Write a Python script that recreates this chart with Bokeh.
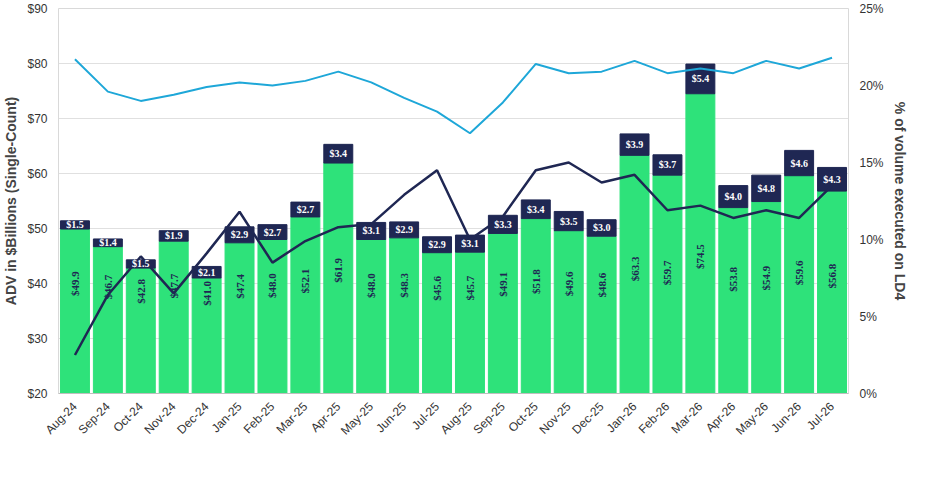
from bokeh.plotting import figure
from bokeh.models import ColumnDataSource, Range1d, LinearAxis, NumeralTickFormatter, Legend, LegendItem, LabelSet
from bokeh.embed import file_html
from bokeh.resources import INLINE

months = ["Aug-24","Sep-24","Oct-24","Nov-24","Dec-24","Jan-25","Feb-25","Mar-25","Apr-25","May-25","Jun-25","Jul-25",
          "Aug-25","Sep-25","Oct-25","Nov-25","Dec-25","Jan-26","Feb-26","Mar-26","Apr-26","May-26","Jun-26","Jul-26"]
spot = [49.9,46.7,42.8,47.7,41.0,47.4,48.0,52.1,61.9,48.0,48.3,45.6,45.7,49.1,51.8,49.6,48.6,63.3,59.7,74.5,53.8,54.9,59.6,56.8]
ndf = [1.5,1.4,1.5,1.9,2.1,2.9,2.7,2.7,3.4,3.1,2.9,2.9,3.1,3.3,3.4,3.5,3.0,3.9,3.7,5.4,4.0,4.8,4.6,4.3]
spot_pct = [21.7,19.6,19.0,19.4,19.9,20.2,20.0,20.3,20.9,20.2,19.2,18.3,16.9,18.9,21.4,20.8,20.9,21.6,20.8,21.1,20.8,21.6,21.1,21.8]
ndf_pct = [2.5,6.4,8.9,6.5,9.1,11.8,8.5,9.9,10.8,11.0,12.9,14.5,10.0,11.5,14.5,15.0,13.7,14.2,11.9,12.2,11.4,11.9,11.4,13.5]

GREEN = "#2ee27a"; NAVY = "#1f2753"; BLUE = "#1ea7d8"
total = [s + n for s, n in zip(spot, ndf)]
src = ColumnDataSource(dict(
    m=months, spot=spot, ndf=ndf, total=total,
    spot_pct=[v/100 for v in spot_pct], ndf_pct=[v/100 for v in ndf_pct],
    spot_lbl=[f"${v:.1f}" for v in spot], ndf_lbl=[f"${v:.1f}" for v in ndf],
    spot_y=[30 + v*0.2 for v in spot], ndf_y=[s + n/2 for s, n in zip(spot, ndf)],
))

p = figure(x_range=months, y_range=Range1d(20, 90), frame_width=790, frame_height=385,
           output_backend="svg", toolbar_location=None, min_border_left=5, min_border_right=5,
           min_border_top=8, min_border_bottom=0)
p.extra_y_ranges = {"pct": Range1d(0, 0.25)}
p.xgrid.grid_line_color = None
p.ygrid.grid_line_color = "#e0e0e0"
p.outline_line_color = "#d9d9d9"

r_spot = p.vbar(x="m", top="spot", bottom=0, width=0.88, color=GREEN, source=src)
r_ndf = p.vbar(x="m", top="total", bottom="spot", width=0.88, color=NAVY, source=src)
r_l1 = p.line(x="m", y="spot_pct", y_range_name="pct", color=BLUE, line_width=2, source=src)
r_l2 = p.line(x="m", y="ndf_pct", y_range_name="pct", color=NAVY, line_width=2.5, source=src)

p.add_layout(LabelSet(x="m", y="spot_y", text="spot_lbl", source=src, angle=1.5708,
                      text_align="center", text_baseline="middle", text_color=NAVY,
                      text_font_size="11px", text_font_style="bold", text_font="Liberation Sans"))
p.add_layout(LabelSet(x="m", y="ndf_y", text="ndf_lbl", source=src,
                      text_align="center", text_baseline="middle", text_color="white",
                      text_font_size="10px", text_font_style="bold", text_font="Liberation Sans"))

p.yaxis.formatter = NumeralTickFormatter(format="$0")
p.yaxis.axis_label = "ADV in $Billions (Single-Count)"
ax2 = LinearAxis(y_range_name="pct", formatter=NumeralTickFormatter(format="0%"),
                 axis_label="% of volume executed on LD4")
p.add_layout(ax2, "right")
for ax in [p.yaxis[0], ax2, p.xaxis[0]]:
    ax.major_label_text_font = "Liberation Sans"
    ax.major_label_text_font_size = "12px"
    ax.major_label_text_color = "#333333"
    ax.axis_label_text_font = "Liberation Sans"
    ax.axis_label_text_font_style = "bold"
    ax.axis_label_text_font_size = "14px"
    ax.axis_line_color = None
    ax.major_tick_line_color = None
    ax.minor_tick_line_color = None
p.yaxis.ticker = [20,30,40,50,60,70,80,90]
ax2.ticker = [0,0.05,0.10,0.15,0.20,0.25]
p.xaxis.major_label_orientation = 0.785
p.xaxis.axis_line_color = "#bfbfbf"

leg = Legend(items=[LegendItem(label="Spot", renderers=[r_spot]),
                    LegendItem(label="NDF", renderers=[r_ndf]),
                    LegendItem(label="% Spot volume on LD4", renderers=[r_l1]),
                    LegendItem(label="% NDFs volume on LD4", renderers=[r_l2])],
             orientation="horizontal", location="center", border_line_color=None,
             label_text_font="Liberation Sans", label_text_font_style="bold",
             label_text_font_size="13px", spacing=14, glyph_width=18, padding=0, margin=2)
p.add_layout(leg, "below")

open("out.html", "w").write(file_html(p, INLINE))
